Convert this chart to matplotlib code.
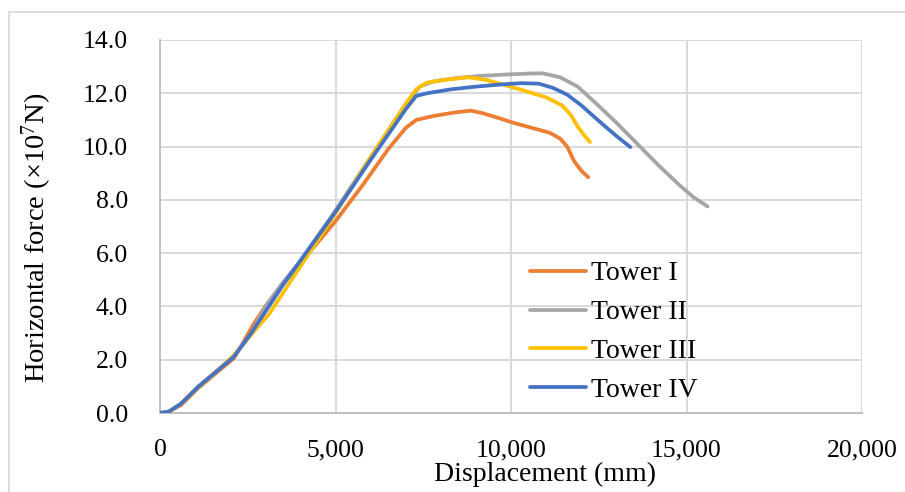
import matplotlib
matplotlib.use("Agg")
import matplotlib.pyplot as plt
from matplotlib.patches import Rectangle

plt.rcParams['font.family'] = ['Liberation Serif', 'DejaVu Serif']
plt.rcParams['mathtext.fontset'] = 'custom'
plt.rcParams['mathtext.rm'] = 'Liberation Serif'
plt.rcParams['mathtext.it'] = 'Liberation Serif:italic'

series_names = ["Tower I", "Tower II", "Tower III", "Tower IV"]
colors = ["#ED7D31", "#A5A5A5", "#FFC000", "#4472C4"]

t1_x = [0, 250, 600, 1100, 1600, 2100, 2350, 2650, 3000, 3600, 4300, 5000, 5800, 6500, 7000, 7300, 7800, 8400, 8850, 9200, 9700, 10100, 10600, 11100, 11400, 11600, 11800, 12000, 12200]
t1_y = [0, 0.05, 0.3, 0.95, 1.5, 2.05, 2.6, 3.3, 4.0, 5.0, 6.1, 7.2, 8.6, 9.9, 10.7, 11.0, 11.15, 11.28, 11.35, 11.25, 11.05, 10.88, 10.7, 10.52, 10.3, 10.0, 9.45, 9.1, 8.85]

t2_x = [0, 250, 600, 1100, 1600, 2100, 2600, 3000, 3500, 4000, 5000, 6000, 7000, 7400, 7800, 8500, 9100, 9800, 10500, 10900, 11400, 11900, 12400, 13000, 13600, 14200, 14800, 15200, 15600]
t2_y = [0, 0.05, 0.35, 1.0, 1.55, 2.15, 3.0, 4.0, 4.9, 5.7, 7.6, 9.6, 11.6, 12.25, 12.45, 12.58, 12.65, 12.7, 12.74, 12.75, 12.6, 12.25, 11.65, 10.9, 10.1, 9.3, 8.55, 8.1, 7.75]

t3_x = [0, 250, 600, 1100, 1600, 2100, 2600, 3100, 3500, 4000, 5000, 6000, 7000, 7300, 7600, 8200, 8800, 9300, 9900, 10500, 11000, 11450, 11700, 11900, 12100, 12250]
t3_y = [0, 0.05, 0.35, 1.0, 1.55, 2.15, 2.95, 3.7, 4.5, 5.5, 7.5, 9.6, 11.6, 12.15, 12.4, 12.52, 12.6, 12.5, 12.28, 12.05, 11.85, 11.55, 11.2, 10.75, 10.4, 10.17]

t4_x = [0, 250, 600, 1100, 1600, 2100, 2600, 3100, 3500, 4100, 5000, 6000, 7000, 7300, 7600, 8300, 9000, 9700, 10300, 10800, 11200, 11600, 12000, 12600, 13000, 13400]
t4_y = [0, 0.05, 0.35, 1.0, 1.55, 2.1, 3.0, 4.0, 4.8, 5.9, 7.55, 9.5, 11.4, 11.9, 12.0, 12.15, 12.25, 12.33, 12.38, 12.36, 12.2, 11.95, 11.55, 10.85, 10.4, 9.98]

xs = [t1_x, t2_x, t3_x, t4_x]
ys = [t1_y, t2_y, t3_y, t4_y]

x_ticks = [0, 5000, 10000, 15000, 20000]
x_tick_labels = ["0", "5,000", "10,000", "15,000", "20,000"]
y_ticks = [0, 2, 4, 6, 8, 10, 12, 14]
y_tick_labels = ["0.0", "2.0", "4.0", "6.0", "8.0", "10.0", "12.0", "14.0"]

fig = plt.figure(figsize=(9.05, 4.92), dpi=100)
ax = fig.add_axes([160/905, 1-413/492, 702/905, 373/492])

for x, y, c, n in zip(xs, ys, colors, series_names):
    ax.plot(x, y, color=c, lw=2.7, label=n, solid_capstyle='round', solid_joinstyle='round', zorder=3)

ax.set_xlim(0, 20000)
ax.set_ylim(0, 14)
ax.set_xticks(x_ticks)
ax.set_xticklabels(x_tick_labels)
ax.set_yticks(y_ticks)
ax.set_yticklabels(y_tick_labels)
ax.tick_params(axis='both', length=0, labelsize=18.5)
ax.tick_params(axis='x', pad=19)
ax.tick_params(axis='y', pad=23)
ax.grid(True, color='#D9D9D9', lw=1.4, zorder=0)
ax.set_axisbelow(True)
for s in ['top', 'right']:
    ax.spines[s].set_visible(False)
ax.spines['left'].set_color('#BFBFBF')
ax.spines['left'].set_linewidth(1.4)
ax.spines['bottom'].set_color('#BFBFBF')
ax.spines['bottom'].set_linewidth(1.4)

fig.text(545/905, 1-474/492, "Displacement (mm)", ha='center', va='center', fontsize=20)
fig.text(37/905, 1-238/492, "Horizontal force (\u00d710$^{7}$N)", ha='center', va='center',
         rotation=90, fontsize=20.5)

leg = ax.legend(loc='upper left', bbox_to_anchor=((530-160)/702, (413-261)/373), frameon=False,
                fontsize=20, handlelength=2.0, handletextpad=0.2, labelspacing=0.48,
                borderaxespad=0, borderpad=0)

fig.add_artist(Rectangle((9/905, -0.1), 1.0, 1 - 12/492 + 0.1, transform=fig.transFigure,
                         fill=False, edgecolor='#D9D9D9', lw=1.3))

fig.savefig("out.png", dpi=100)
